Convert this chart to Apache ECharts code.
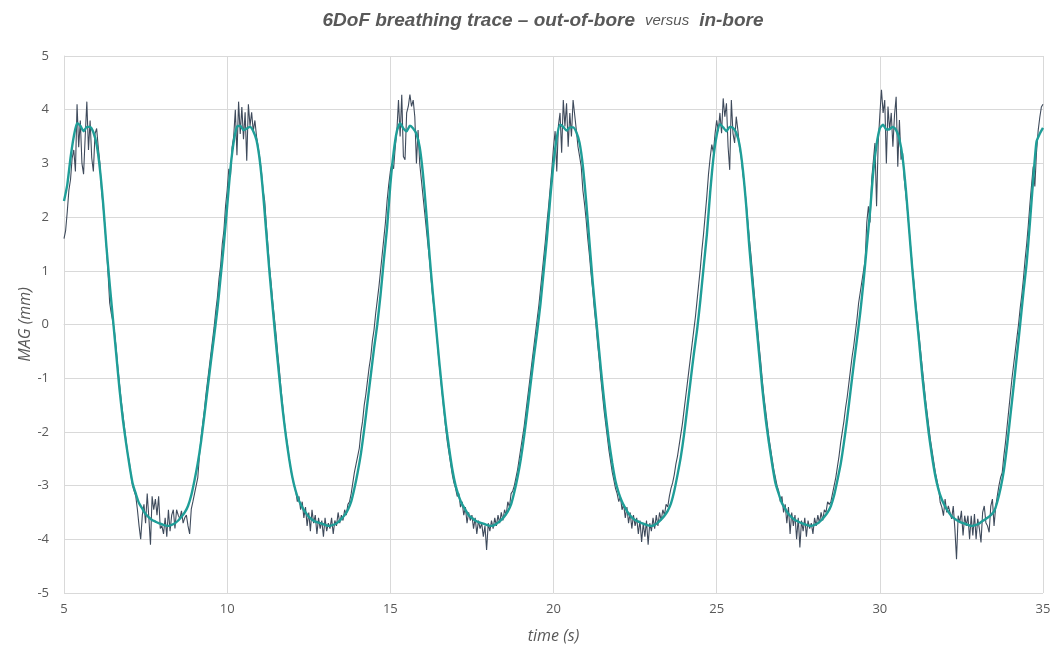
<!DOCTYPE html>
<html>
<head>
<meta charset="utf-8">
<script src="https://cdn.jsdelivr.net/npm/echarts@6/dist/echarts.min.js"></script>
<style>
  html, body { margin: 0; padding: 0; background: #fff; }
  #chart { width: 1055px; height: 649px; }
</style>
</head>
<body>
<div id="chart"></div>
<script>
// out-of-bore trace (noisy), one sample every 0.05 s from 5 s
const darkStart = 5
const darkStep = 0.05
const darkValues = [
  1.6, 1.75, 2.1, 2.5, 2.7, 3.1, 3.25, 2.85, 4.1, 3.3, 3.8, 3.0, 2.8, 3.5, 4.15, 3.25, 3.8, 3.1, 2.85, 3.55,
  3.65, 3.3, 3.0, 2.5, 2.2, 1.85, 1.45, 0.95, 0.4, 0.2, 0.05, -0.15, -0.45, -0.8, -1.1, -1.4, -1.65, -1.9, -2.15, -2.4,
  -2.55, -2.8, -3.0, -3.1, -3.2, -3.45, -3.75, -4.0, -3.55, -3.35, -3.7, -3.15, -3.6, -4.1, -3.2, -3.45, -3.25, -3.55, -3.2, -3.8,
  -3.75, -3.9, -3.6, -3.95, -3.45, -3.85, -3.55, -3.45, -3.8, -3.45, -3.55, -3.62, -3.47, -3.7, -3.6, -3.55, -3.75, -3.9, -3.44, -3.3,
  -3.15, -3.0, -2.85, -2.45, -2.1, -1.85, -1.6, -1.3, -1.05, -0.8, -0.55, -0.3, -0.05, 0.25, 0.5, 0.85, 1.1, 1.5, 1.75, 2.2,
  2.5, 2.9, 2.75, 3.3, 3.5, 4.0, 3.15, 4.15, 3.55, 4.05, 3.45, 3.95, 3.05, 4.1, 3.7, 3.95, 3.6, 3.8, 3.5, 3.3,
  3.1, 2.85, 2.5, 2.3, 1.85, 1.45, 1.05, 0.75, 0.4, 0.1, -0.2, -0.55, -0.85, -1.2, -1.5, -1.8, -2.05, -2.25, -2.5, -2.7,
  -2.85, -3.0, -3.1, -3.3, -3.2, -3.45, -3.3, -3.6, -3.4, -3.75, -3.5, -3.85, -3.45, -3.7, -3.55, -3.9, -3.6, -3.8, -3.65, -3.95,
  -3.6, -3.85, -3.7, -3.8, -3.6, -3.9, -3.65, -3.75, -3.5, -3.7, -3.55, -3.65, -3.45, -3.55, -3.35, -3.3, -3.15, -2.95, -2.75, -2.6,
  -2.45, -2.3, -2.0, -1.8, -1.5, -1.3, -1.05, -0.8, -0.6, -0.3, -0.1, 0.2, 0.45, 0.7, 1.0, 1.3, 1.6, 1.9, 2.3, 2.6,
  2.85, 3.0, 2.9, 3.3, 3.6, 4.18, 3.5, 4.28, 3.13, 3.07, 3.94, 4.06, 4.28, 4.06, 4.18, 3.87, 3.0, 3.62, 3.0, 2.7,
  2.4, 2.1, 1.8, 1.5, 1.2, 0.85, 0.5, 0.25, -0.05, -0.4, -0.75, -1.05, -1.35, -1.65, -1.95, -2.2, -2.4, -2.6, -2.8, -2.95,
  -3.05, -3.2, -3.15, -3.4, -3.3, -3.55, -3.4, -3.7, -3.5, -3.65, -3.55, -3.8, -3.6, -3.9, -3.65, -3.8, -3.7, -3.95, -3.75, -4.2,
  -3.7, -3.85, -3.65, -3.8, -3.6, -3.75, -3.55, -3.7, -3.5, -3.65, -3.45, -3.55, -3.3, -3.4, -3.15, -3.1, -3.0, -2.85, -2.7, -2.5,
  -2.3, -2.1, -1.9, -1.65, -1.4, -1.15, -0.9, -0.65, -0.4, -0.15, 0.1, 0.35, 0.65, 0.95, 1.25, 1.55, 1.9, 2.2, 2.55, 2.9,
  3.3, 3.6, 2.85, 3.7, 3.94, 3.2, 4.18, 3.69, 4.12, 3.31, 3.94, 3.5, 4.18, 4.15, 3.62, 3.31, 3.13, 2.94, 2.5, 2.25,
  1.95, 1.6, 1.3, 0.95, 0.65, 0.3, 0.0, -0.35, -0.65, -1.0, -1.3, -1.6, -1.85, -2.1, -2.35, -2.55, -2.75, -2.9, -3.05, -3.15,
  -3.3, -3.2, -3.45, -3.35, -3.6, -3.4, -3.7, -3.5, -3.8, -3.55, -3.75, -3.6, -3.9, -3.65, -4.05, -3.7, -3.95, -3.65, -4.1, -3.7,
  -3.85, -3.6, -3.8, -3.55, -3.75, -3.5, -3.65, -3.45, -3.55, -3.35, -3.4, -3.2, -3.05, -2.95, -2.8, -2.6, -2.45, -2.25, -2.05, -1.85,
  -1.6, -1.35, -1.1, -0.85, -0.6, -0.35, -0.1, 0.15, 0.45, 0.75, 1.05, 1.4, 1.7, 2.05, 2.4, 2.8, 3.1, 3.35, 3.2, 3.55,
  3.8, 3.6, 3.94, 3.56, 4.21, 3.87, 4.12, 3.31, 2.88, 4.18, 3.56, 3.38, 3.87, 3.62, 3.3, 3.13, 2.82, 2.6, 2.3, 1.95,
  1.6, 1.3, 0.95, 0.6, 0.25, -0.05, -0.4, -0.7, -1.05, -1.35, -1.6, -1.85, -2.1, -2.3, -2.5, -2.7, -2.85, -3.0, -3.1, -3.3,
  -3.2, -3.5, -3.35, -3.7, -3.4, -3.9, -3.5, -3.75, -3.55, -4.0, -3.6, -4.15, -3.65, -3.85, -3.6, -3.95, -3.65, -3.8, -3.7, -3.9,
  -3.6, -3.75, -3.55, -3.7, -3.5, -3.65, -3.45, -3.5, -3.3, -3.35, -3.3, -3.15, -3.0, -2.85, -2.65, -2.45, -2.2, -2.0, -1.8, -1.55,
  -1.35, -1.1, -0.85, -0.6, -0.4, -0.15, 0.1, 0.4, 0.6, 0.8, 1.0, 1.2, 1.9, 2.2, 1.9, 2.7, 2.7, 3.38, 2.2, 3.38,
  3.9, 4.37, 3.94, 4.18, 3.0, 4.06, 3.62, 3.94, 3.31, 3.9, 4.24, 2.94, 3.81, 3.07, 3.19, 2.7, 2.4, 2.1, 1.75, 1.4,
  1.05, 0.75, 0.4, 0.1, -0.2, -0.5, -0.8, -1.1, -1.4, -1.65, -1.9, -2.15, -2.35, -2.55, -2.75, -2.9, -3.05, -3.31, -3.4, -3.56,
  -3.25, -3.5, -3.38, -3.5, -3.62, -3.38, -3.81, -4.37, -3.56, -3.69, -3.47, -3.93, -3.56, -3.75, -3.56, -4.0, -3.56, -3.93, -3.53, -4.0,
  -3.62, -3.8, -4.06, -3.5, -3.38, -3.69, -3.75, -3.87, -3.38, -3.25, -3.75, -3.4, -3.19, -3.0, -2.85, -2.76, -2.45, -2.2, -1.9, -1.6,
  -1.3, -1.0, -0.75, -0.5, -0.25, 0.0, 0.3, 0.55, 0.85, 1.2, 1.5, 1.85, 2.25, 2.6, 2.94, 2.57, 3.2, 3.6, 3.85, 4.05,
  4.1
]

// in-bore trace (smooth), one sample every 0.1 s from 5 s
const tealStart = 5
const tealStep = 0.1
const tealValues = [
  2.3, 2.6, 3.1, 3.5, 3.75, 3.7, 3.6, 3.68, 3.68, 3.58,
  3.35, 2.9, 2.25, 1.45, 0.75, 0.1, -0.55, -1.2, -1.75, -2.2,
  -2.6, -2.95, -3.15, -3.33, -3.43, -3.53, -3.59, -3.64, -3.67, -3.7,
  -3.72, -3.74, -3.75, -3.73, -3.7, -3.65, -3.58, -3.5, -3.38, -3.18,
  -2.9, -2.58, -2.18, -1.7, -1.2, -0.7, -0.22, 0.28, 0.88, 1.5,
  2.2, 2.9, 3.4, 3.68, 3.7, 3.62, 3.65, 3.68, 3.6, 3.43,
  3.05, 2.45, 1.7, 0.95, 0.28, -0.38, -1.0, -1.58, -2.08, -2.5,
  -2.85, -3.1, -3.28, -3.4, -3.5, -3.58, -3.63, -3.67, -3.69, -3.71,
  -3.73, -3.75, -3.74, -3.72, -3.68, -3.62, -3.55, -3.45, -3.3, -3.05,
  -2.75, -2.4, -1.95, -1.45, -0.95, -0.45, 0, 0.55, 1.2, 1.8,
  2.6, 3.2, 3.6, 3.75, 3.65, 3.6, 3.7, 3.65, 3.55, 3.3,
  2.8, 2.1, 1.3, 0.6, -0.05, -0.7, -1.3, -1.85, -2.3, -2.7,
  -3.0, -3.2, -3.35, -3.45, -3.55, -3.6, -3.65, -3.68, -3.7, -3.72,
  -3.74, -3.75, -3.73, -3.69, -3.64, -3.57, -3.48, -3.35, -3.12, -2.84,
  -2.5, -2.08, -1.6, -1.1, -0.6, -0.13, 0.38, 1.0, 1.62, 2.35,
  3.0, 3.48, 3.72, 3.68, 3.61, 3.67, 3.67, 3.58, 3.38, 2.95,
  2.3, 1.55, 0.8, 0.15, -0.5, -1.12, -1.68, -2.17, -2.58, -2.92,
  -3.14, -3.3, -3.42, -3.52, -3.59, -3.64, -3.67, -3.7, -3.72, -3.74,
  -3.75, -3.73, -3.69, -3.63, -3.56, -3.47, -3.33, -3.1, -2.8, -2.47,
  -2.05, -1.55, -1.05, -0.55, -0.1, 0.45, 1.07, 1.68, 2.45, 3.1,
  3.52, 3.73, 3.67, 3.6, 3.68, 3.66, 3.57, 3.35, 2.9, 2.25,
  1.45, 0.75, 0.1, -0.55, -1.2, -1.75, -2.2, -2.6, -2.95, -3.15,
  -3.33, -3.43, -3.53, -3.59, -3.64, -3.67, -3.7, -3.72, -3.74, -3.75,
  -3.73, -3.7, -3.65, -3.58, -3.5, -3.38, -3.18, -2.9, -2.6, -2.2,
  -1.75, -1.25, -0.75, -0.27, 0.22, 0.8, 1.45, 2.1, 2.85, 3.35,
  3.65, 3.72, 3.63, 3.64, 3.68, 3.62, 3.45, 3.1, 2.5, 1.75,
  1.0, 0.32, -0.3, -0.95, -1.52, -2.03, -2.46, -2.82, -3.08, -3.26,
  -3.39, -3.49, -3.57, -3.62, -3.66, -3.69, -3.71, -3.73, -3.75, -3.74,
  -3.72, -3.68, -3.64, -3.6, -3.55, -3.48, -3.3, -3.05, -2.72, -2.25,
  -1.7, -1.15, -0.58, 0, 0.6, 1.15, 1.9, 2.7, 3.4, 3.55,
  3.66
]

const xTicks = [5, 10, 15, 20, 25, 30, 35]
const yTicks = [-5, -4, -3, -2, -1, 0, 1, 2, 3, 4, 5]

const textGray = '#595959'
const gridGray = '#d9d9d9'
const titleFont = "'Liberation Sans', Arial, sans-serif"
const labelFont = "'Open Sans', 'Noto Sans', sans-serif"

function toPairs(start, step, values) {
  return values.map((v, i) => [+(start + i * step).toFixed(2), v])
}

const chart = echarts.init(document.getElementById('chart'), null, { renderer: 'canvas' })

chart.setOption({
  animation: false,
  backgroundColor: '#ffffff',
  title: {
    text: '{b|6DoF breathing trace – out-of-bore}  {s|versus}  {b|in-bore}',
    left: 538,
    textAlign: 'center',
    top: 6,
    textStyle: {
      rich: {
        b: { fontSize: 19, fontWeight: 'bold', fontStyle: 'italic', color: textGray, fontFamily: titleFont },
        s: { fontSize: 15, fontWeight: 'normal', fontStyle: 'italic', color: textGray, fontFamily: titleFont }
      }
    }
  },
  grid: { left: 64, right: 12, top: 56, bottom: 55 },
  xAxis: {
    type: 'value',
    min: xTicks[0],
    max: xTicks[xTicks.length - 1],
    interval: 5,
    name: 'time (s)',
    nameLocation: 'middle',
    nameGap: 35,
    nameMoveOverlap: false,
    nameTextStyle: { fontStyle: 'italic', fontSize: 16, color: textGray, fontFamily: labelFont },
    axisLine: { lineStyle: { color: gridGray } },
    axisTick: { show: false },
    axisLabel: { color: textGray, fontSize: 13, margin: 10, fontFamily: labelFont },
    splitLine: { show: true, lineStyle: { color: gridGray, width: 1 } }
  },
  yAxis: {
    type: 'value',
    min: yTicks[0],
    max: yTicks[yTicks.length - 1],
    interval: 1,
    name: 'MAG (mm)',
    nameLocation: 'middle',
    nameGap: 31,
    nameMoveOverlap: false,
    nameTextStyle: { fontStyle: 'italic', fontSize: 16, color: textGray, fontFamily: labelFont },
    axisLine: { show: true, lineStyle: { color: gridGray } },
    axisTick: { show: false },
    axisLabel: { color: textGray, fontSize: 13, margin: 15, fontFamily: labelFont },
    splitLine: { show: true, lineStyle: { color: gridGray, width: 1 } }
  },
  series: [
    {
      name: 'out-of-bore',
      type: 'line',
      data: toPairs(darkStart, darkStep, darkValues),
      showSymbol: false,
      lineStyle: { color: '#3f4b5c', width: 1.1 },
      z: 2
    },
    {
      name: 'in-bore',
      type: 'line',
      data: toPairs(tealStart, tealStep, tealValues),
      showSymbol: false,
      smooth: 0.2,
      lineStyle: { color: '#1f9e98', width: 2.4 },
      z: 3
    }
  ]
})
</script>
</body>
</html>
